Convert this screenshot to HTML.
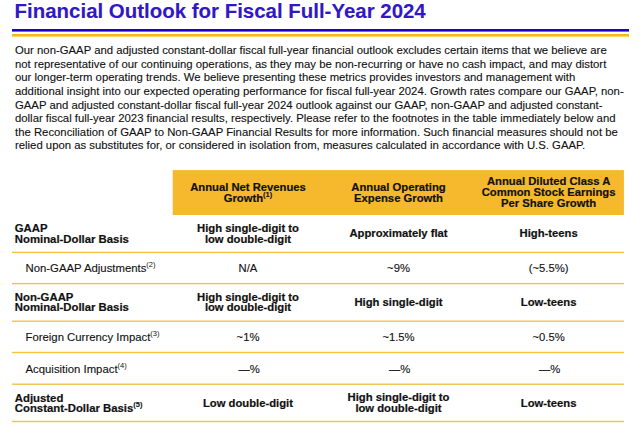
<!DOCTYPE html>
<html><head><meta charset="utf-8"><style>
html,body{margin:0;padding:0;background:#fff;}
body{width:640px;height:428px;overflow:hidden;position:relative;font-family:"Liberation Sans",Arial,sans-serif;}
svg.bg{position:absolute;left:0;top:0;}
.t{position:absolute;white-space:nowrap;-webkit-text-stroke:0.12px currentColor;}
.bd{-webkit-text-stroke:0.2px currentColor;}
.sup{font-size:7.5px;position:relative;top:-4.8px;font-weight:400;-webkit-text-stroke:0;}
.sup.b{font-weight:700;-webkit-text-stroke:0.1px currentColor;}
</style></head><body>
<svg class="bg" width="640" height="428" viewBox="0 0 640 428">
<rect x="12" y="29" width="617" height="2.6" fill="#2000c0"/>
<rect x="12" y="34" width="617" height="2.6" fill="#f5bb12"/>
<rect x="172.7" y="170.1" width="451.2" height="44.9" fill="#f6b82d"/>
<rect x="12" y="251.70" width="612" height="1.4" fill="#f6c244"/>
<rect x="12" y="282.90" width="612" height="1.4" fill="#f6c244"/>
<rect x="12" y="320.50" width="612" height="1.4" fill="#f6c244"/>
<rect x="12" y="351.80" width="612" height="1.4" fill="#f6c244"/>
<rect x="12" y="383.50" width="612" height="1.4" fill="#f6c244"/>
<rect x="12" y="420.80" width="612" height="1.4" fill="#f6c244"/>
</svg>
<div class="t bd" style="left:14.60px;top:-3.40px;font-size:20.45px;line-height:27px;font-weight:700;color:#3018c6;-webkit-text-stroke:0.1px currentColor;">Financial Outlook for Fiscal Full-Year 2024</div>
<div class="t" style="left:15.00px;top:43.30px;font-size:11.34px;line-height:15px;font-weight:400;color:#111;">Our non-GAAP and adjusted constant-dollar fiscal full-year financial outlook excludes certain items that we believe are</div>
<div class="t" style="left:15.00px;top:56.86px;font-size:11.34px;line-height:15px;font-weight:400;color:#111;">not representative of our continuing operations, as they may be non-recurring or have no cash impact, and may distort</div>
<div class="t" style="left:15.00px;top:70.42px;font-size:11.34px;line-height:15px;font-weight:400;color:#111;">our longer-term operating trends. We believe presenting these metrics provides investors and management with</div>
<div class="t" style="left:15.00px;top:83.98px;font-size:11.34px;line-height:15px;font-weight:400;color:#111;">additional insight into our expected operating performance for fiscal full-year 2024. Growth rates compare our GAAP, non-</div>
<div class="t" style="left:15.00px;top:97.54px;font-size:11.34px;line-height:15px;font-weight:400;color:#111;">GAAP and adjusted constant-dollar fiscal full-year 2024 outlook against our GAAP, non-GAAP and adjusted constant-</div>
<div class="t" style="left:15.00px;top:111.10px;font-size:11.34px;line-height:15px;font-weight:400;color:#111;">dollar fiscal full-year 2023 financial results, respectively. Please refer to the footnotes in the table immediately below and</div>
<div class="t" style="left:15.00px;top:124.66px;font-size:11.34px;line-height:15px;font-weight:400;color:#111;">the Reconciliation of GAAP to Non-GAAP Financial Results for more information. Such financial measures should not be</div>
<div class="t" style="left:15.00px;top:138.22px;font-size:11.34px;line-height:15px;font-weight:400;color:#111;">relied upon as substitutes for, or considered in isolation from, measures calculated in accordance with U.S. GAAP.</div>
<div class="t bd" style="left:148.00px;width:200px;text-align:center;top:179.50px;font-size:11.25px;line-height:15px;font-weight:700;color:#111;">Annual Net Revenues</div>
<div class="t bd" style="left:148.00px;width:200px;text-align:center;top:191.20px;font-size:11.25px;line-height:15px;font-weight:700;color:#111;">Growth<span class="sup b">(1)</span></div>
<div class="t bd" style="left:298.50px;width:200px;text-align:center;top:179.50px;font-size:11.25px;line-height:15px;font-weight:700;color:#111;">Annual Operating</div>
<div class="t bd" style="left:298.50px;width:200px;text-align:center;top:191.00px;font-size:11.25px;line-height:15px;font-weight:700;color:#111;">Expense Growth</div>
<div class="t bd" style="left:448.60px;width:200px;text-align:center;top:173.90px;font-size:11.25px;line-height:15px;font-weight:700;color:#111;">Annual Diluted Class A</div>
<div class="t bd" style="left:448.60px;width:200px;text-align:center;top:184.80px;font-size:11.25px;line-height:15px;font-weight:700;color:#111;">Common Stock Earnings</div>
<div class="t bd" style="left:448.60px;width:200px;text-align:center;top:195.60px;font-size:11.25px;line-height:15px;font-weight:700;color:#111;">Per Share Growth</div>
<div class="t bd" style="left:14.80px;top:221.10px;font-size:11.35px;line-height:15px;font-weight:700;color:#111;">GAAP</div>
<div class="t bd" style="left:14.80px;top:231.80px;font-size:11.35px;line-height:15px;font-weight:700;color:#111;">Nominal-Dollar Basis</div>
<div class="t bd" style="left:148.00px;width:200px;text-align:center;top:221.10px;font-size:11.25px;line-height:15px;font-weight:700;color:#111;">High single-digit to</div>
<div class="t bd" style="left:148.00px;width:200px;text-align:center;top:231.80px;font-size:11.25px;line-height:15px;font-weight:700;color:#111;">low double-digit</div>
<div class="t bd" style="left:298.50px;width:200px;text-align:center;top:226.40px;font-size:11.25px;line-height:15px;font-weight:700;color:#111;">Approximately flat</div>
<div class="t bd" style="left:448.60px;width:200px;text-align:center;top:226.40px;font-size:11.25px;line-height:15px;font-weight:700;color:#111;">High-teens</div>
<div class="t" style="left:25.50px;top:261.10px;font-size:11.35px;line-height:15px;font-weight:400;color:#111;">Non-GAAP Adjustments<span class="sup">(2)</span></div>
<div class="t" style="left:148.00px;width:200px;text-align:center;top:261.10px;font-size:11.25px;line-height:15px;font-weight:400;color:#111;">N/A</div>
<div class="t" style="left:298.50px;width:200px;text-align:center;top:261.10px;font-size:11.25px;line-height:15px;font-weight:400;color:#111;">~9%</div>
<div class="t" style="left:448.60px;width:200px;text-align:center;top:261.10px;font-size:11.25px;line-height:15px;font-weight:400;color:#111;">(~5.5%)</div>
<div class="t bd" style="left:14.80px;top:289.60px;font-size:11.35px;line-height:15px;font-weight:700;color:#111;">Non-GAAP</div>
<div class="t bd" style="left:14.80px;top:300.30px;font-size:11.35px;line-height:15px;font-weight:700;color:#111;">Nominal-Dollar Basis</div>
<div class="t bd" style="left:148.00px;width:200px;text-align:center;top:289.60px;font-size:11.25px;line-height:15px;font-weight:700;color:#111;">High single-digit to</div>
<div class="t bd" style="left:148.00px;width:200px;text-align:center;top:300.30px;font-size:11.25px;line-height:15px;font-weight:700;color:#111;">low double-digit</div>
<div class="t bd" style="left:298.50px;width:200px;text-align:center;top:295.00px;font-size:11.25px;line-height:15px;font-weight:700;color:#111;">High single-digit</div>
<div class="t bd" style="left:448.60px;width:200px;text-align:center;top:295.00px;font-size:11.25px;line-height:15px;font-weight:700;color:#111;">Low-teens</div>
<div class="t" style="left:25.50px;top:330.00px;font-size:11.35px;line-height:15px;font-weight:400;color:#111;">Foreign Currency Impact<span class="sup">(3)</span></div>
<div class="t" style="left:148.00px;width:200px;text-align:center;top:330.00px;font-size:11.25px;line-height:15px;font-weight:400;color:#111;">~1%</div>
<div class="t" style="left:298.50px;width:200px;text-align:center;top:330.00px;font-size:11.25px;line-height:15px;font-weight:400;color:#111;">~1.5%</div>
<div class="t" style="left:448.60px;width:200px;text-align:center;top:330.00px;font-size:11.25px;line-height:15px;font-weight:400;color:#111;">~0.5%</div>
<div class="t" style="left:25.50px;top:361.70px;font-size:11.35px;line-height:15px;font-weight:400;color:#111;">Acquisition Impact<span class="sup">(4)</span></div>
<div class="t" style="left:149.10px;width:200px;text-align:center;top:361.70px;font-size:11.25px;line-height:15px;font-weight:400;color:#111;">—%</div>
<div class="t" style="left:299.60px;width:200px;text-align:center;top:361.70px;font-size:11.25px;line-height:15px;font-weight:400;color:#111;">—%</div>
<div class="t" style="left:449.70px;width:200px;text-align:center;top:361.70px;font-size:11.25px;line-height:15px;font-weight:400;color:#111;">—%</div>
<div class="t bd" style="left:14.80px;top:390.60px;font-size:11.35px;line-height:15px;font-weight:700;color:#111;">Adjusted</div>
<div class="t bd" style="left:14.80px;top:401.00px;font-size:11.35px;line-height:15px;font-weight:700;color:#111;">Constant-Dollar Basis<span class="sup b">(5)</span></div>
<div class="t bd" style="left:148.00px;width:200px;text-align:center;top:395.60px;font-size:11.25px;line-height:15px;font-weight:700;color:#111;">Low double-digit</div>
<div class="t bd" style="left:298.50px;width:200px;text-align:center;top:390.30px;font-size:11.25px;line-height:15px;font-weight:700;color:#111;">High single-digit to</div>
<div class="t bd" style="left:298.50px;width:200px;text-align:center;top:401.00px;font-size:11.25px;line-height:15px;font-weight:700;color:#111;">low double-digit</div>
<div class="t bd" style="left:448.60px;width:200px;text-align:center;top:395.60px;font-size:11.25px;line-height:15px;font-weight:700;color:#111;">Low-teens</div>
</body></html>
